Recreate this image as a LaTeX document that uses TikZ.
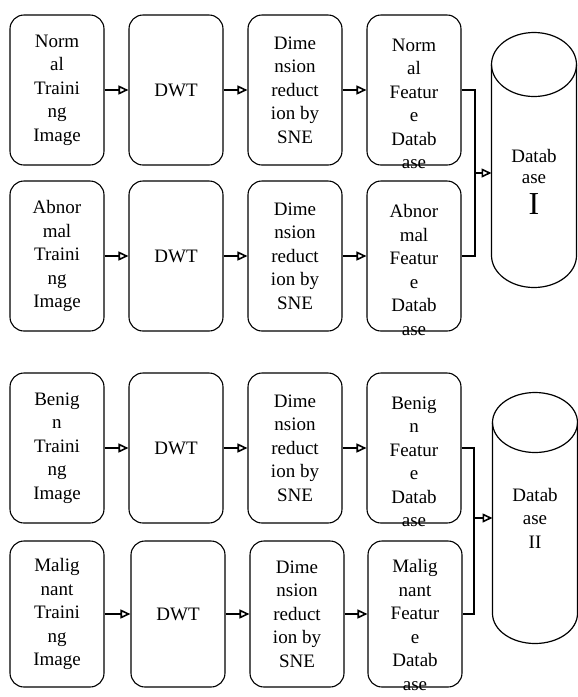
\documentclass[tikz,border=0pt]{standalone}
\usepackage{fontspec}
\setmainfont{Liberation Serif}
\usetikzlibrary{arrows.meta}
\begin{document}
\begin{tikzpicture}[x=1pt, y=-1pt,
    stage/.style={draw, line width=1.1pt, rounded corners=14pt, minimum width=94pt,
        minimum height=150pt, inner sep=0pt, align=center, font=\fontsize{19}{23.5}\selectfont},
    dbbody/.style={minimum width=85pt, minimum height=191pt, inner sep=0pt, outer sep=0pt},
    words/.style={align=center, font=\fontsize{19}{23.5}\selectfont},
    flow/.style={-{Triangle[open, length=10pt, width=9pt]}, line width=1.6pt},
    link/.style={line width=1.2pt}]
    \useasboundingbox (0, 0) rectangle (578, 697);
    % first group: normal / abnormal
    \node[stage] (inN) at(57, 90) {Norm\\al\\Traini\\ng\\Image};
    \node[stage] (dwtN) at(176, 90) {DWT};
    \node[stage] (dimN) at(295, 90) {Dime\\nsion\\reduct\\ion by\\SNE};
    \node[stage] (featN) at(414, 90) {};
    \node[words] at([yshift=-14pt]featN.center) {Norm\\al\\Featur\\e\\Datab\\ase};
    \node[stage] (inA) at(57, 256) {Abnor\\mal\\Traini\\ng\\Image};
    \node[stage] (dwtA) at(176, 256) {DWT};
    \node[stage] (dimA) at(295, 256) {Dime\\nsion\\reduct\\ion by\\SNE};
    \node[stage] (featA) at(414, 256) {};
    \node[words] at([yshift=-14pt]featA.center) {Abnor\\mal\\Featur\\e\\Datab\\ase};
    \draw[flow] (inN) -- (dwtN);
    \draw[flow] (dwtN) -- (dimN);
    \draw[flow] (dimN) -- (featN);
    \draw[flow] (inA) -- (dwtA);
    \draw[flow] (dwtA) -- (dimA);
    \draw[flow] (dimA) -- (featA);
    % database I
    \node[dbbody] (dbone) at(534, 160) {};
    \draw[link] (dbone.north) ellipse (42.5pt and 32pt);
    \draw[link] (dbone.north west) -- (dbone.south west) arc(180:360:42.5pt and 32pt) -- (dbone.north east);
    \node[words, font=\fontsize{19}{21}\selectfont] at([yshift=-22pt]dbone.center)
        {Datab\\ase\\[9pt]{\fontsize{32}{32}\selectfont I}};
    \coordinate (jointone) at(475, 173);
    \draw[link] (featN.east) -| (jointone) |- (featA.east);
    \draw[flow] (jointone) -- (dbone.west |- jointone);
    % second group: benign / malignant
    \node[stage] (inB) at(57, 448) {Benig\\n\\Traini\\ng\\Image};
    \node[stage] (dwtB) at(176, 448) {DWT};
    \node[stage] (dimB) at(295, 448) {Dime\\nsion\\reduct\\ion by\\SNE};
    \node[stage] (featB) at(414, 448) {};
    \node[words] at([yshift=-14pt]featB.center) {Benig\\n\\Featur\\e\\Datab\\ase};
    \node[stage, minimum height=146pt] (inM) at(57, 614) {Malig\\nant\\Traini\\ng\\Image};
    \node[stage, minimum height=146pt] (dwtM) at(178, 614) {DWT};
    \node[stage, minimum height=146pt] (dimM) at(297, 614) {Dime\\nsion\\reduct\\ion by\\SNE};
    \node[stage, minimum height=146pt] (featM) at(415, 614) {};
    \node[words] at([yshift=-11pt]featM.center) {Malig\\nant\\Featur\\e\\Datab\\ase};
    \draw[flow] (inB) -- (dwtB);
    \draw[flow] (dwtB) -- (dimB);
    \draw[flow] (dimB) -- (featB);
    \draw[flow] (inM) -- (dwtM);
    \draw[flow] (dwtM) -- (dimM);
    \draw[flow] (dimM) -- (featM);
    % database II
    \node[dbbody] (dbtwo) at(535, 518) {};
    \draw[link] (dbtwo.north) ellipse (42.5pt and 30pt);
    \draw[link] (dbtwo.north west) -- (dbtwo.south west) arc(180:360:42.5pt and 30pt) -- (dbtwo.north east);
    \node[words] at(dbtwo.center) {Datab\\ase\\II};
    \coordinate (jointtwo) at(474, 518);
    \draw[link] (featB.east) -| (jointtwo) |- (featM.east);
    \draw[flow] (jointtwo) -- (dbtwo.west |- jointtwo);
\end{tikzpicture}
\end{document}
